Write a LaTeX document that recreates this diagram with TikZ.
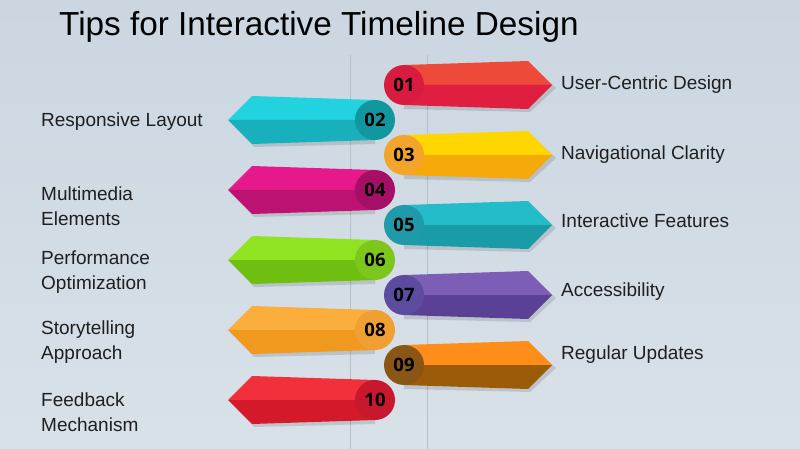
\documentclass[tikz,border=0pt]{standalone}
\usepackage{fontspec}
\setmainfont{Liberation Sans}
\newfontfamily\numfont{Open Sans}
\usepackage{tikz}
\usetikzlibrary{shapes}
\definecolor{bgtop}{HTML}{CBD6E1}
\definecolor{bgbot}{HTML}{D9E1E8}
\definecolor{guide}{HTML}{B6C0CA}
% arrow colours: light face, dark face, disc
\definecolor{ra}{HTML}{EE4A3A}\definecolor{rb}{HTML}{E01E40}\definecolor{rc}{HTML}{D81C40}
\definecolor{ca}{HTML}{22D2DE}\definecolor{cb}{HTML}{17B0BC}\definecolor{cc}{HTML}{13979F}
\definecolor{ya}{HTML}{FFD600}\definecolor{yb}{HTML}{F6A90A}\definecolor{yc}{HTML}{F2A52A}
\definecolor{ma}{HTML}{E6198C}\definecolor{mb}{HTML}{BC1271}\definecolor{mc}{HTML}{A50F66}
\definecolor{ta}{HTML}{24BCC8}\definecolor{tb}{HTML}{1A9CA8}\definecolor{tc}{HTML}{1E9AA8}
\definecolor{la}{HTML}{90E321}\definecolor{lb}{HTML}{6EBF10}\definecolor{lc}{HTML}{7DC61B}
\definecolor{pa}{HTML}{7C5EB6}\definecolor{pb}{HTML}{5B4196}\definecolor{pc}{HTML}{5C4B9F}
\definecolor{oa}{HTML}{FCAE3C}\definecolor{ob}{HTML}{F0991F}\definecolor{oc}{HTML}{F0A032}
\definecolor{ba}{HTML}{FF8D1A}\definecolor{bb}{HTML}{9C5B08}\definecolor{bc}{HTML}{8A5616}
\definecolor{da}{HTML}{F2303B}\definecolor{db}{HTML}{D41A2A}\definecolor{dc}{HTML}{C8182E}
\tikzstyle{numdisc}=[circle,minimum size=40pt,inner sep=0pt,text=black,font=\numfont\bfseries\fontsize{18.5}{18.5}\selectfont]
\tikzstyle{tip} = [anchor=west,align=left,inner sep=0pt,text=black!88,font=\fontsize{19}{25}\selectfont]
\tikzstyle{dropshade} = [black,opacity=.12]

\begin{document}
\begin{tikzpicture}[x=1pt,y=-1pt]
      \shade[top color=bgtop,bottom color=bgbot] (0,0) rectangle (800,449);
      \useasboundingbox (0,0) rectangle (800,449);
      \draw[guide,line width=.8pt] (350,55) -- (350,449);
      \draw[guide,line width=.8pt] (427,55) -- (427,449);
      \node[anchor=west,inner sep=0pt,font=\fontsize{33.3}{33.3}\selectfont] (title) at (59,27) {Tips for Interactive Timeline Design};
      % arrows pointing right
      \foreach \i/\y/\up/\dn/\disc in {01/85/ra/rb/rc,03/155/ya/yb/yc,05/225/ta/tb/tc,07/295/pa/pb/pc,09/365/ba/bb/bc}{
        \fill[dropshade] (404,\y-18) -- (530,\y-21) -- (556,\y+3) -- (530,\y+27) -- (404,\y+24) -- cycle;
        \fill[\up] (404,\y-20) -- (528,\y-24) -- (552,\y) -- (404,\y) -- cycle;
        \fill[\dn] (404,\y) -- (552,\y) -- (528,\y+24) -- (404,\y+20) -- cycle;
        \node[numdisc,fill=\disc] (n\i) at (404,\y) {\i};
      }
      % arrows pointing left
      \foreach \i/\y/\up/\dn/\disc in {02/120/ca/cb/cc,04/190/ma/mb/mc,06/260/la/lb/lc,08/330/oa/ob/oc,10/400/da/db/dc}{
        \fill[dropshade] (375,\y-18) -- (254,\y-21) -- (231,\y+3) -- (254,\y+27) -- (375,\y+24) -- cycle;
        \fill[\up] (375,\y-20) -- (252,\y-24) -- (228,\y) -- (375,\y) -- cycle;
        \fill[\dn] (375,\y) -- (228,\y) -- (252,\y+24) -- (375,\y+20) -- cycle;
        \node[numdisc,fill=\disc] (n\i) at (375,\y) {\i};
      }
      \node[tip] (t01) at (561,85) {User-Centric Design};
      \node[tip] (t03) at (561,155) {Navigational Clarity};
      \node[tip] (t05) at (561,221) {Interactive Features};
      \node[tip] (t07) at (561,292) {Accessibility};
      \node[tip] (t09) at (561,355) {Regular Updates};
      \node[tip] (t02) at (41,122) {Responsive Layout};
      \node[tip] (t04) at (41,206) {Multimedia\\Elements};
      \node[tip] (t06) at (41,272) {Performance\\Optimization};
      \node[tip] (t08) at (41,342) {Storytelling\\Approach};
      \node[tip] (t10) at (41,412) {Feedback\\Mechanism};
    \end{tikzpicture}
\end{document}
